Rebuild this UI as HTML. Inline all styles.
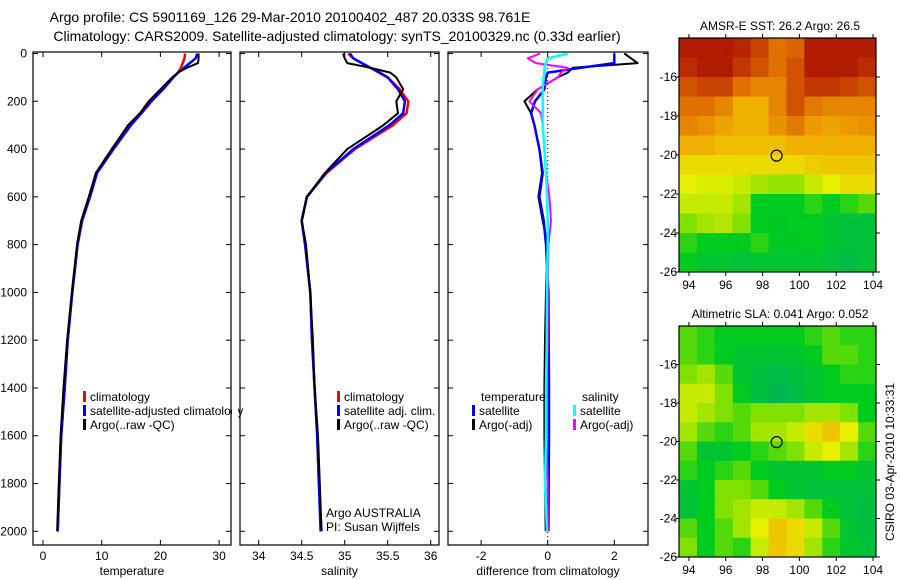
<!DOCTYPE html>
<html><head><meta charset="utf-8"><style>
body{margin:0;background:#fff;}
svg{display:block;font-family:"Liberation Sans",sans-serif;}
</style></head><body>
<svg id="svg" width="900" height="580" viewBox="0 0 900 580">
<text x="290" y="22" font-size="14" text-anchor="middle">Argo profile: CS 5901169_126 29-Mar-2010 20100402_487 20.033S 98.761E</text>
<text x="337" y="41" font-size="14" text-anchor="middle">Climatology: CARS2009. Satellite-adjusted climatology: synTS_20100329.nc (0.33d earlier)</text>
<g id="g"></g>
</svg>
<script>
// ---- data ----
const depths=[0,20,40,60,80,100,150,200,250,300,400,500,600,700,800,1000,1200,1400,1600,1800,2000];
const tempClim=[24.2,24.1,23.8,23.5,23,22.2,20.5,18.5,16.8,15,12,9.2,8,6.7,5.9,5.0,4.2,3.7,3.1,2.8,2.5];
const tempSat=[26.3,26,25,24,23,22.2,20.4,18.4,16.7,14.9,12,9.2,8,6.6,5.9,5.0,4.2,3.7,3.1,2.8,2.5];
const tempArgo=[26.5,26.5,26.4,24.5,23,22,20,18,16.5,14.5,11.7,9,7.8,6.5,5.8,4.9,4.1,3.5,3.0,2.7,2.4];
const salClim=[35.04,35.1,35.2,35.3,35.41,35.5,35.64,35.74,35.72,35.56,35.12,34.79,34.56,34.5,34.54,34.6,34.62,34.65,34.68,34.7,34.73];
const salSat=[35.06,35.1,35.2,35.3,35.4,35.5,35.62,35.7,35.68,35.52,35.1,34.78,34.56,34.5,34.54,34.6,34.62,34.65,34.68,34.7,34.72];
const salArgo=[34.98,35.0,35.03,35.3,35.53,35.6,35.68,35.6,35.62,35.45,35.03,34.77,34.56,34.5,34.55,34.6,34.63,34.65,34.69,34.71,34.73];
const dTempArgo=[2.3,2.5,2.7,0.75,0.6,0.3,-0.3,-0.7,-0.5,-0.4,-0.25,-0.17,-0.28,-0.15,0,-0.05,-0.08,-0.1,-0.1,-0.08,-0.06];
const dTempSat=[2.0,2.0,2.0,1.0,0,-0.05,-0.1,-0.38,-0.5,-0.4,-0.25,-0.15,-0.25,-0.12,-0.05,0.02,0.03,0.04,0.04,0.03,0.02];
const dSalArgo=[-0.23,-0.6,-0.35,0.6,0.4,0.3,-0.3,-0.55,-0.2,-0.15,-0.1,-0.05,0.05,0.1,0.02,0.0,0.0,-0.02,-0.04,0.0,0.0];
const dSalCyan=[0.6,0,-0.05,-0.1,-0.1,-0.12,-0.15,-0.15,-0.15,-0.15,-0.1,-0.05,-0.02,0,0,-0.02,-0.03,-0.05,-0.05,-0.08,-0.02];
const depthTicks=[0,200,400,600,800,1000,1200,1400,1600,1800,2000];
const tempTicks=[0,10,20,30];
const salTicks=[34,34.5,35,35.5,36];
const diffTicks=[-2,0,2];
const lonTicks=[94,96,98,100,102,104];
const latTicks=[16,18,20,22,24,26];
const sstGrid=[
[0.95,0.95,0.95,0.93,0.88,0.8,0.82,0.95,0.95,0.95,0.95],
[0.92,0.95,0.95,0.9,0.85,0.8,0.85,0.95,0.95,0.95,0.92],
[0.85,0.88,0.88,0.8,0.75,0.75,0.85,0.9,0.9,0.88,0.85],
[0.8,0.8,0.75,0.65,0.65,0.75,0.85,0.78,0.75,0.75,0.75],
[0.75,0.72,0.68,0.65,0.65,0.72,0.78,0.7,0.68,0.7,0.72],
[0.65,0.65,0.62,0.62,0.62,0.62,0.65,0.65,0.65,0.65,0.65],
[0.55,0.55,0.55,0.55,0.55,0.55,0.55,0.58,0.6,0.6,0.6],
[0.5,0.48,0.48,0.45,0.4,0.38,0.38,0.45,0.5,0.55,0.55],
[0.45,0.45,0.45,0.4,0.2,0.2,0.2,0.25,0.2,0.25,0.3],
[0.35,0.4,0.42,0.35,0.2,0.18,0.2,0.2,0.15,0.12,0.12],
[0.25,0.2,0.2,0.2,0.25,0.18,0.18,0.2,0.15,0.12,0.12],
[0.2,0.15,0.15,0.12,0.15,0.15,0.15,0.15,0.12,0.08,0.12]];
const slaGrid=[
[0.3,0.25,0.2,0.2,0.2,0.2,0.2,0.25,0.3,0.25,0.25],
[0.3,0.25,0.2,0.15,0.15,0.15,0.15,0.2,0.3,0.3,0.25],
[0.35,0.4,0.3,0.15,0.1,0.08,0.1,0.15,0.2,0.25,0.25],
[0.45,0.45,0.35,0.2,0.1,0.05,0.08,0.15,0.2,0.2,0.2],
[0.45,0.4,0.35,0.3,0.35,0.35,0.35,0.4,0.4,0.35,0.2],
[0.4,0.3,0.25,0.3,0.4,0.4,0.45,0.55,0.6,0.5,0.3],
[0.3,0.15,0.15,0.2,0.25,0.3,0.35,0.45,0.5,0.4,0.25],
[0.25,0.2,0.25,0.3,0.2,0.15,0.15,0.15,0.2,0.2,0.15],
[0.15,0.2,0.35,0.35,0.3,0.2,0.15,0.12,0.12,0.12,0.12],
[0.12,0.2,0.35,0.4,0.45,0.45,0.4,0.3,0.2,0.12,0.1],
[0.3,0.2,0.3,0.4,0.5,0.6,0.55,0.45,0.3,0.15,0.1],
[0.35,0.2,0.3,0.25,0.45,0.6,0.55,0.4,0.25,0.15,0.12]];
const argoLon=98.761, argoLat=20.033;

// ---- helpers ----
const NS="http://www.w3.org/2000/svg", G=document.getElementById('g');
function el(tag,attrs,parent){const e=document.createElementNS(NS,tag);for(const k in attrs)e.setAttribute(k,attrs[k]);(parent||G).appendChild(e);return e;}
const yDepth=d=>53.5+d*0.2389;
function panel(name,x0,x1,xs,ticks,fmt,label,showY){
  const box=el('rect',{x:x0,y:52,width:x1-x0,height:493,fill:'none',stroke:'#000','stroke-width':1.2});
  
  
  depthTicks.forEach(d=>{const y=yDepth(d);
    el('line',{x1:x0,x2:x0+5,y1:y,y2:y,stroke:'#000'});el('line',{x1:x1-5,x2:x1,y1:y,y2:y,stroke:'#000'});
    if(showY){const t=el('text',{x:27,y:y+4,'font-size':12,'text-anchor':'end'});t.textContent=d;
      
      }});
  ticks.forEach(v=>{const x=xs(v);
    el('line',{x1:x,x2:x,y1:545,y2:540,stroke:'#000'});el('line',{x1:x,x2:x,y1:52,y2:57,stroke:'#000'});
    const t=el('text',{x:x,y:560,'font-size':12,'text-anchor':'middle'});t.textContent=fmt(v);
    
    });
  const t=el('text',{x:(x0+x1)/2,y:575,'font-size':12,'text-anchor':'middle'});t.textContent=label;
  
  
}
function line(xs,vals,color,name,w){
  const pts=vals.map((v,i)=>xs(v).toFixed(1)+','+yDepth(depths[i]).toFixed(1)).join(' ');
  const p=el('polyline',{points:pts,fill:'none',stroke:color,'stroke-width':w||2.5,'stroke-linejoin':'round'});
  
  
}
function legend(x,y,color,text,name){
  if(color){el('rect',{x:x,y:y-10,width:3,height:11,fill:color});}
  const t=el('text',{x:x+7,y:y,'font-size':12});t.textContent=text;
  
  
}

// panel 1 temperature
const xT=v=>43+v*5.87;
panel('temperature-panel',33,231,xT,tempTicks,v=>v,'temperature',true);
line(xT,tempClim,'#f00','temp-climatology-line');
line(xT,tempSat,'#00f','temp-satellite-line');
line(xT,tempArgo,'#000','temp-argo-line',2);
legend(83,401,'#f00','climatology','legend-climatology');
legend(83,415,'#00f','satellite-adjusted climatology','legend-satellite-adjusted');
legend(83,429,'#000','Argo(..raw -QC)','legend-argo');
el('rect',{x:232,y:380,width:6,height:60,fill:'#fff'});

// panel 2 salinity
const xS=v=>258.7+(v-34)*86;
panel('salinity-panel',240,439,xS,salTicks,v=>v,'salinity',false);
line(xS,salClim,'#f00','sal-climatology-line');
line(xS,salSat,'#00f','sal-satellite-line');
line(xS,salArgo,'#000','sal-argo-line',2);
legend(337,401,'#f00','climatology','legend-sal-climatology');
legend(337,415,'#00f','satellite adj. clim.','legend-sal-satellite');
legend(337,429,'#000','Argo(..raw -QC)','legend-sal-argo');
legend(319,517,null,'Argo AUSTRALIA','credit-argo-australia');
legend(319,531,null,'PI: Susan Wijffels','credit-pi');

// panel 3 differences
const xD=v=>547.7+v*33.3;
panel('difference-panel',448,648,xD,diffTicks,v=>v,'difference from climatology',false);
el('line',{x1:xD(0),x2:xD(0),y1:52,y2:545,stroke:'#000','stroke-dasharray':'1,3'});
line(xD,dTempArgo,'#000','diff-temp-argo-line',2);
line(xD,dTempSat,'#00f','diff-temp-satellite-line');
line(xD,dSalArgo,'#f0f','diff-sal-argo-line',2);
line(xD,dSalCyan,'#0ff','diff-sal-satellite-line');
legend(474,401,null,'temperature','legend-diff-temperature-heading');
legend(472,415,'#00f','satellite','legend-diff-temp-satellite');
legend(472,429,'#000','Argo(-adj)','legend-diff-temp-argo');
legend(575,401,null,'salinity','legend-diff-salinity-heading');
legend(573,415,'#0ff','satellite','legend-diff-sal-satellite');
legend(573,429,'#f0f','Argo(-adj)','legend-diff-sal-argo');

// maps
const stops=[[0,[0,176,96]],[0.2,[0,204,32]],[0.35,[128,224,0]],[0.5,[232,240,0]],[0.65,[240,176,0]],[0.8,[224,112,0]],[1,[160,0,0]]];
function cmap(v){for(let i=1;i<stops.length;i++){if(v<=stops[i][0]){const a=stops[i-1],b=stops[i],f=(v-a[0])/(b[0]-a[0]);
  return 'rgb('+a[1].map((c,k)=>Math.round(c+(b[1][k]-c)*f)).join(',')+')';}}return 'rgb(160,0,0)';}
function map(name,grid,y0,y1,title,lonLbl){
  const x0=679,x1=876,lon0=93.46,lon1=104.16;
  const xs=lon=>x0+(lon-lon0)/(lon1-lon0)*(x1-x0);
  const ys=lat=>y0+(lat-14)/12*(y1-y0);
  const nr=grid.length,nc=grid[0].length;
  grid.forEach((row,r)=>row.forEach((v,c)=>{
    const c0=lon0+c*(lon1-lon0)/nc,c1=lon0+(c+1)*(lon1-lon0)/nc;
    const cell=el('rect',{x:xs(c0),y:ys(14+r),width:xs(c1)-xs(c0)+0.5,height:ys(15+r)-ys(14+r)+0.5,fill:cmap(v)});
    
    }));
  const b=el('rect',{x:x0,y:y0,width:x1-x0,height:y1-y0,fill:'none',stroke:'#000','stroke-width':1.2});
  
  
  lonTicks.forEach(l=>{const x=xs(l);el('line',{x1:x,x2:x,y1:y1,y2:y1+4,stroke:'#000'});el('line',{x1:x,x2:x,y1:y0,y2:y0-4,stroke:'#000'});
    const t=el('text',{x:x,y:lonLbl,'font-size':12,'text-anchor':'middle'});t.textContent=l;
    
    });
  latTicks.forEach(l=>{const y=ys(l);el('line',{x1:x0-3,x2:x0,y1:y,y2:y,stroke:'#000'});el('line',{x1:x1,x2:x1+4,y1:y,y2:y,stroke:'#000'});
    const t=el('text',{x:x0-2,y:y+4,'font-size':12,'text-anchor':'end'});t.textContent='-'+l;
    
    });
  const c=el('circle',{cx:xs(argoLon),cy:ys(argoLat),r:5.5,fill:'none',stroke:'#000','stroke-width':1.2});
  
  
  const t=el('text',{x:780,y:y0-8,'font-size':12,'text-anchor':'middle'});t.textContent=title;
  
  
}
map('sst-map',sstGrid,38,272,'AMSR-E SST: 26.2 Argo: 26.5',289);
map('sla-map',slaGrid,326,557,'Altimetric SLA: 0.041 Argo: 0.052',574);
const ts=el('text',{x:0,y:0,'font-size':12,'text-anchor':'middle',transform:'translate(894,462) rotate(-90)'});
ts.textContent='CSIRO 03-Apr-2010 10:33:31';


</script>
</body></html>
